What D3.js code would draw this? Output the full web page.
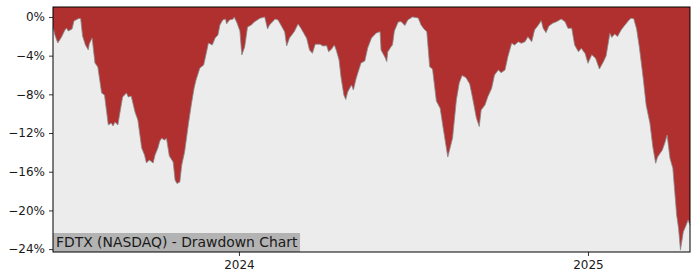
<!DOCTYPE html>
<html>
<head>
<meta charset="utf-8">
<script src="https://cdn.jsdelivr.net/npm/d3@7"></script>
<style>
  body { margin: 0; background: #fff; }
  #chart text { font-family: "DejaVu Sans", sans-serif; }
</style>
</head>
<body>
<div id="chart"></div>
<script>
// Drawdown series (percent below running peak)
const dates = [
  "2023-06-20","2023-06-22","2023-06-25","2023-06-27","2023-06-29","2023-07-02","2023-07-04","2023-07-06",
  "2023-07-10","2023-07-12","2023-07-17","2023-07-19","2023-07-21","2023-07-24","2023-07-27","2023-07-28",
  "2023-07-31","2023-08-03","2023-08-06","2023-08-10","2023-08-13","2023-08-17","2023-08-20","2023-08-22",
  "2023-08-24","2023-08-27","2023-08-30","2023-09-01","2023-09-05","2023-09-07","2023-09-10","2023-09-14",
  "2023-09-17","2023-09-21","2023-09-24","2023-09-26","2023-09-29","2023-10-03","2023-10-05","2023-10-08",
  "2023-10-10","2023-10-12","2023-10-15","2023-10-17","2023-10-20","2023-10-24","2023-10-26","2023-10-28",
  "2023-10-31","2023-11-02","2023-11-05","2023-11-09","2023-11-12","2023-11-15","2023-11-17","2023-11-21",
  "2023-11-25","2023-11-28","2023-11-30","2023-12-04","2023-12-07","2023-12-10","2023-12-12","2023-12-15",
  "2023-12-18","2023-12-19","2023-12-22","2023-12-26","2023-12-27","2023-12-30","2024-01-02","2024-01-04",
  "2024-01-07","2024-01-10","2024-01-14","2024-01-17","2024-01-23","2024-01-28","2024-01-31","2024-02-02",
  "2024-02-08","2024-02-11","2024-02-14","2024-02-18","2024-02-20","2024-02-23","2024-02-28","2024-03-03",
  "2024-03-06","2024-03-09","2024-03-12","2024-03-15","2024-03-18","2024-03-21","2024-03-26","2024-03-29",
  "2024-04-02","2024-04-04","2024-04-07","2024-04-10","2024-04-12","2024-04-15","2024-04-17","2024-04-20",
  "2024-04-22","2024-04-24","2024-04-28","2024-04-30","2024-05-03","2024-05-08","2024-05-12","2024-05-15",
  "2024-05-19","2024-05-24","2024-05-28","2024-05-29","2024-06-02","2024-06-04","2024-06-05","2024-06-09",
  "2024-06-10","2024-06-12","2024-06-16","2024-06-19","2024-06-23","2024-06-26","2024-07-01","2024-07-07",
  "2024-07-10","2024-07-13","2024-07-16","2024-07-19","2024-07-22","2024-07-26","2024-07-30","2024-08-02",
  "2024-08-07","2024-08-12","2024-08-16","2024-08-19","2024-08-22","2024-08-26","2024-08-30","2024-09-02",
  "2024-09-06","2024-09-09","2024-09-11","2024-09-15","2024-09-18","2024-09-22","2024-09-25","2024-09-29",
  "2024-10-02","2024-10-06","2024-10-09","2024-10-13","2024-10-16","2024-10-20","2024-10-23","2024-10-27",
  "2024-10-30","2024-11-03","2024-11-06","2024-11-10","2024-11-13","2024-11-15","2024-11-18","2024-11-21",
  "2024-11-25","2024-11-29","2024-12-04","2024-12-08","2024-12-11","2024-12-15","2024-12-18","2024-12-22",
  "2024-12-25","2024-12-29","2025-01-01","2025-01-05","2025-01-09","2025-01-13","2025-01-17","2025-01-20",
  "2025-01-24","2025-01-26","2025-01-29","2025-02-01","2025-02-05","2025-02-08","2025-02-12","2025-02-15",
  "2025-02-18","2025-02-21","2025-02-24","2025-02-28","2025-03-03","2025-03-07","2025-03-10","2025-03-13",
  "2025-03-15","2025-03-20","2025-03-23","2025-03-25","2025-03-28","2025-03-31","2025-04-02","2025-04-04",
  "2025-04-06","2025-04-08","2025-04-11","2025-04-14","2025-04-16","2025-04-18"
];
const drawdown = [
  -1.03,-1.86,-2.69,-2.38,-2.07,-1.45,-1.14,-1.45,
  -1.24,-0.41,-0.16,-0.16,-1.97,-2.90,-3.41,-2.79,
  -2.17,-4.76,-5.17,-7.86,-8.07,-11.17,-10.97,-11.27,
  -10.86,-11.17,-9.41,-8.28,-7.86,-8.28,-8.17,-9.83,
  -10.66,-13.55,-14.28,-15.10,-14.79,-15.10,-14.28,-13.55,
  -12.83,-12.55,-12.72,-12.55,-14.38,-15.00,-16.86,-17.22,
  -17.07,-15.31,-13.96,-11.07,-9.10,-7.34,-6.52,-5.28,
  -4.97,-3.62,-2.69,-2.90,-2.17,-1.86,-0.83,-0.31,
  -0.21,-0.72,-0.31,-0.21,0,-0.62,-1.45,-3.93,
  -3.10,-1.03,-0.83,-0.52,-0.13,0,-1.24,-0.83,
  -0.21,-0.31,-0.83,-1.55,-3.00,-2.17,-1.52,-0.72,
  -1.17,-1.69,-2.20,-3.41,-3.76,-2.82,-2.82,-3.00,
  -2.97,-3.59,-3.34,-2.90,-3.41,-4.45,-6.21,-8.07,
  -8.53,-7.76,-7.03,-7.55,-6.31,-4.76,-4.55,-3.21,
  -2.17,-1.66,-1.52,-3.41,-4.14,-4.62,-3.62,-3.00,
  -2.90,-1.45,-0.52,-0.47,-0.88,-0.31,0,-0.10,
  -0.83,-1.24,-1.52,-5.14,-5.38,-8.69,-9.44,-11.38,
  -14.48,-12.52,-8.59,-6.83,-6.05,-6.26,-6.93,-8.38,
  -10.45,-11.33,-9.62,-9.10,-8.24,-7.38,-6.00,-5.48,
  -5.76,-5.48,-4.11,-2.72,-2.90,-2.56,-2.72,-2.56,
  -2.04,-2.56,-1.34,-0.83,-0.38,-1.17,-1.62,-0.93,
  -0.65,-0.49,-0.21,-0.49,-1.17,-1.17,-2.90,-3.59,
  -3.24,-3.78,-4.79,-3.90,-4.27,-5.38,-4.66,-4.03,
  -1.69,-2.12,-1.76,-2.02,-1.31,-0.93,-0.44,-0.13,
  -0.18,-1.24,-3.21,-6.41,-9.10,-11.00,-13.42,-15.13,
  -14.48,-13.76,-12.90,-12.21,-14.62,-15.65,-18.07,-20.48,
  -21.86,-24.10,-22.21,-21.52,-21.00,-21.52
];
const yTicks = [0, -4, -8, -12, -16, -20, -24];
const xTicks = ["2024-01-01", "2025-01-01"];
const title = "FDTX (NASDAQ) - Drawdown Chart";

var W = 700, H = 280;
var margin = {top: 7, right: 10, bottom: 28, left: 53};
var width = W - margin.left - margin.right;
var height = H - margin.top - margin.bottom;

var parse = d3.utcParse("%Y-%m-%d");
var data = dates.map((d, i) => ({date: parse(d), v: drawdown[i]}));

var svg = d3.select("#chart")
  .append("svg")
  .attr("width", W)
  .attr("height", H)
  .append("g")
  .attr("transform", "translate(" + margin.left + "," + margin.top + ")");

var x = d3.scaleUtc().domain(d3.extent(data, d => d.date)).range([0, width]);
var y = d3.scaleLinear().domain([-24.3, 1.03]).range([height, 0]);

// background
svg.append("rect")
  .attr("width", width)
  .attr("height", height)
  .attr("fill", "#ececec");

// red area from the top of the axes down to the drawdown curve
var area = d3.area()
  .x(d => x(d.date))
  .y0(y(y.domain()[1]))
  .y1(d => y(d.v));

svg.append("path")
  .attr("fill", "#b03030")
  .attr("d", area(data));

var line = d3.line()
  .x(d => x(d.date))
  .y(d => y(d.v));

svg.append("path")
  .attr("fill", "none")
  .attr("stroke", "#8a8a8a")
  .attr("stroke-width", 0.8)
  .attr("d", line(data));

// label box
var lab = svg.append("g");
var txt = lab.append("text")
  .attr("x", 3)
  .attr("y", height - 5)
  .attr("font-size", 13.9)
  .attr("fill", "#1a1a1a")
  .text(title);
var bb = txt.node().getBBox();
lab.insert("rect", "text")
  .attr("x", 0)
  .attr("y", height - 19)
  .attr("width", bb.width + 5)
  .attr("height", 19)
  .attr("fill", "#b3b3b3");

// axes
var yAxis = d3.axisLeft(y)
  .tickValues(yTicks)
  .tickSize(4)
  .tickPadding(4)
  .tickFormat(d => (d < 0 ? "\u2212" + Math.abs(d) : d) + "%");

var xAxis = d3.axisBottom(x)
  .tickValues(xTicks.map(parse))
  .tickSize(4)
  .tickPadding(4)
  .tickFormat(d3.utcFormat("%Y"));

var gy = svg.append("g").call(yAxis);
var gx = svg.append("g").attr("transform", "translate(0," + height + ")").call(xAxis);

[gx, gy].forEach(function(g) {
  g.select(".domain").remove();
  g.selectAll("text").attr("font-size", 12).attr("fill", "#1a1a1a")
    .style("font-family", "DejaVu Sans");
  g.selectAll("line").attr("stroke", "#000").attr("stroke-width", 0.8);
});

// frame
svg.append("rect")
  .attr("width", width)
  .attr("height", height)
  .attr("fill", "none")
  .attr("stroke", "#000")
  .attr("stroke-width", 1);
</script>
</body>
</html>
